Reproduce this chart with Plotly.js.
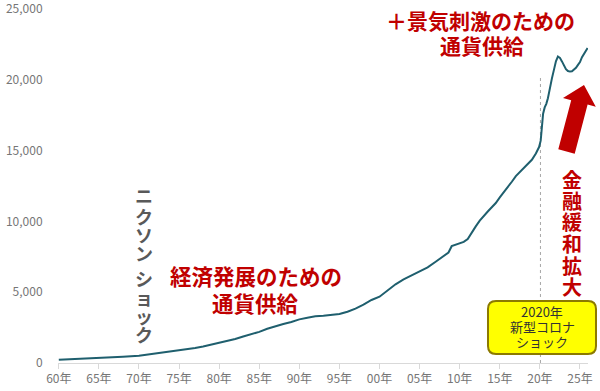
<!DOCTYPE html>
<html>
<head>
<meta charset="utf-8">
<script src="https://cdn.plot.ly/plotly-3.0.1.min.js"></script>
<style>html,body{margin:0;padding:0;background:#fff;}#chart{width:600px;height:391px;}</style>
</head>
<body>
<div id="chart"></div>
<script>
// ---- data (billions of US dollars) ----
const years = [1960,1962,1964,1966,1968,1970,1971,1972,1973,1974,1975,1976,1977,1978,1979,
  1980,1981,1982,1983,1984,1985,1986,1987,1988,1989,1990,1991,1992,1993,1994,1995,1996,1997,1998,1999,
  2000,2001,2002,2003,2004,2005,2006,2007,2008,2008.6,2009.0,2009.5,2010,2010.5,2011.0,2011.5,2012,2012.5,
  2013,2013.5,2014,2014.5,2015,2015.5,2016,2016.5,2017,2017.5,2018,2018.5,2019,2019.5,2019.9,2020.1,
  2020.25,2020.4,2020.6,2020.8,2021.0,2021.25,2021.5,2021.75,2022.0,2022.25,2022.5,2022.75,2023.0,
  2023.25,2023.5,2023.75,2024.0,2024.25,2024.5,2024.75,2025.0,2025.25,2025.5,2025.75,2025.95];
const values = [230,270,320,380,440,510,590,660,730,790,860,960,1060,1160,1280,
  1400,1540,1690,1870,2030,2200,2420,2600,2750,2900,3080,3200,3300,3340,3400,3460,3620,3840,4120,4450,
  4680,5150,5560,5900,6200,6480,6750,7150,7550,7800,8250,8350,8420,8550,8750,9250,9650,10050,
  10400,10700,11000,11300,11700,12050,12400,12800,13200,13500,13800,14050,14350,14800,15250,15700,
  16800,17600,18050,18300,18700,19500,20100,20700,21300,21650,21550,21300,21000,
  20750,20620,20580,20600,20700,20850,21050,21250,21600,21850,22050,22250];
const tickYears = [1960,1965,1970,1975,1980,1985,1990,1995,2000,2005,2010,2015,2020,2025];
const tickLabels = ["60年","65年","70年","75年","80年","85年","90年","95年","00年","05年","10年","15年","20年","25年"];
const yTicks = [0,5000,10000,15000,20000,25000];
const yTickLabels = ["0","5,000","10,000","15,000","20,000","25,000"];
const covidYear = 2020.07;
const covidLineTop = 20300;
const yMax = 25000;

// ---- layout helpers (pixel -> paper) ----
const L = 58, R = 588, B = 363, T = 9;
const px = x => (x - L) / (R - L);
const py = y => (B - y) / (B - T);

const RED = "#C00000";
const JP = "'Noto Sans CJK JP', 'Noto Sans', sans-serif";

function ann(text, x, y, size, color, bold) {
  return {text: bold ? "<b>" + text + "</b>" : text, x: px(x), y: py(y), xref: "paper", yref: "paper",
    xanchor: "center", yanchor: "middle", showarrow: false, borderpad: 0,
    font: {family: JP, size: size, color: color}};
}

const annotations = [];
annotations.push(ann("＋景気刺激のための", 480, 20, 21, RED, true));
annotations.push(ann("通貨供給", 482, 45, 21, RED, true));
annotations.push(ann("経済発展のための", 256, 275, 21.5, RED, true));
annotations.push(ann("通貨供給", 256, 302, 21.5, RED, true));

const nixon = ["ニ","ク","ソ","ン","シ","ョ","ッ","ク"];
const nixonY = [195,216,235,253,278,297,316,334];
nixon.forEach((c, i) => annotations.push(ann(c, 144, nixonY[i], 18, "#595959", true)));

const kinyu = ["金","融","緩","和","拡","大"];
kinyu.forEach((c, i) => annotations.push(ann(c, 571.5, 179 + i * 21.5, 20, RED, true)));

annotations.push(ann("2020年", 542, 311, 13, "#333333", false));
annotations.push(ann("新型コロナ", 542, 326, 13, "#333333", false));
annotations.push(ann("ショック", 542, 341, 13, "#333333", false));

// arrow polygon (pixels)
const arrowPts = [[584,85],[595.8,106.7],[587.6,104.6],[574.7,153.7],[558.3,149.3],[571.2,100.2],[563,98.1]];
const arrowPath = "M" + arrowPts.map(p => px(p[0]).toFixed(5) + "," + py(p[1]).toFixed(5)).join(" L") + " Z";

// rounded box
function roundBox(x0, y0, x1, y1, r) {
  const P = (x, y) => px(x).toFixed(5) + "," + py(y).toFixed(5);
  return "M" + P(x0 + r, y0) + " L" + P(x1 - r, y0) + " Q" + P(x1, y0) + " " + P(x1, y0 + r) +
    " L" + P(x1, y1 - r) + " Q" + P(x1, y1) + " " + P(x1 - r, y1) +
    " L" + P(x0 + r, y1) + " Q" + P(x0, y1) + " " + P(x0, y1 - r) +
    " L" + P(x0, y0 + r) + " Q" + P(x0, y0) + " " + P(x0 + r, y0) + " Z";
}

const shapes = [
  {type: "line", xref: "x", yref: "y", x0: covidYear, x1: covidYear, y0: 0, y1: covidLineTop,
   line: {color: "#A6A6A6", width: 1, dash: "dot"}, layer: "below"},
  {type: "path", xref: "paper", yref: "paper", path: arrowPath, fillcolor: RED, line: {width: 0}},
  {type: "path", xref: "paper", yref: "paper", path: roundBox(488, 301, 596, 354, 8),
   fillcolor: "#FFFF00", line: {color: "#8C7A00", width: 2}}
];

const trace = {x: years, y: values, type: "scatter", mode: "lines",
  line: {color: "#1F5F6E", width: 2}, hoverinfo: "skip"};

const layout = {
  width: 600, height: 391,
  margin: {l: L, r: 600 - R, t: T, b: 391 - B, pad: 0},
  paper_bgcolor: "#fff", plot_bgcolor: "#fff",
  showlegend: false,
  xaxis: {range: [1959.9, 2026], tickvals: tickYears, ticktext: tickLabels,
    showgrid: false, zeroline: false, showline: true, linecolor: "#D9D9D9", linewidth: 1,
    ticks: "outside", ticklen: 5, tickcolor: "#D9D9D9", automargin: false, ticklabeloverflow: "allow",
    tickfont: {family: JP, size: 12, color: "#767676"}},
  yaxis: {range: [0, yMax], tickvals: yTicks, ticktext: yTickLabels, automargin: false,
    ticklabeloverflow: "allow",
    showgrid: false, zeroline: false, showline: false, ticks: "outside", ticklen: 12, tickcolor: "rgba(0,0,0,0)",
    tickfont: {family: JP, size: 12, color: "#767676"}},
  annotations: annotations,
  shapes: shapes
};

Plotly.newPlot("chart", [trace], layout, {staticPlot: true, displayModeBar: false});
</script>
</body>
</html>
